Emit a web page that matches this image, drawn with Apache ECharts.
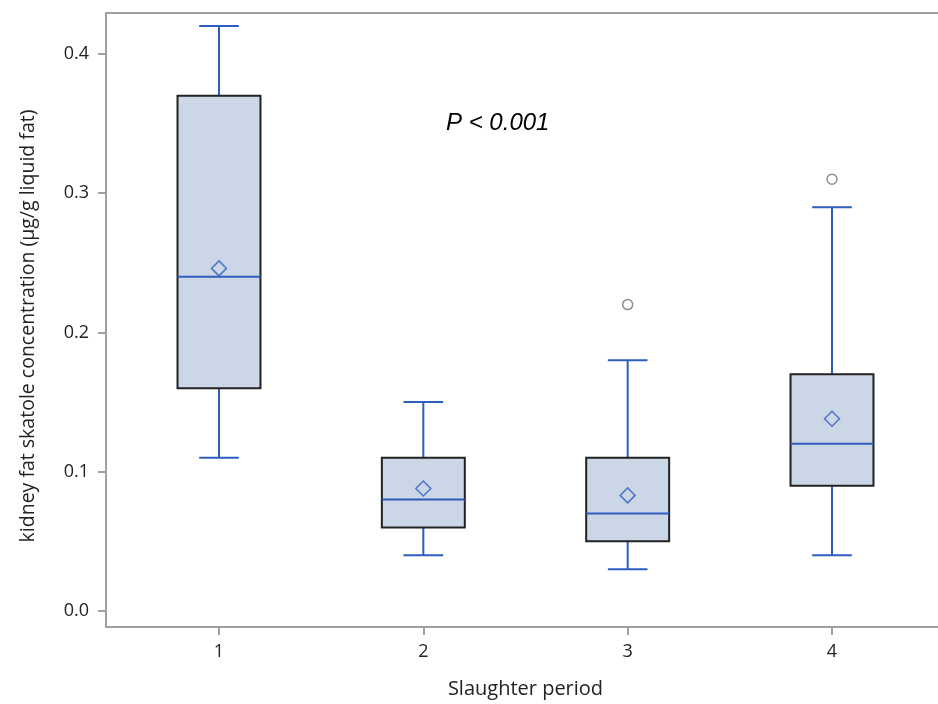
<!DOCTYPE html>
<html>
<head>
<meta charset="utf-8">
<script src="https://cdn.jsdelivr.net/npm/echarts@6/dist/echarts.min.js"></script>
<style>html,body{margin:0;padding:0;background:#fff;overflow:hidden;}#c{width:938px;height:704px;}</style>
</head>
<body>
<div id="c"></div>
<script>
// Data
var periods = [1, 2, 3, 4];
var whiskerLow = [0.11, 0.04, 0.03, 0.04];
var q1 = [0.16, 0.06, 0.05, 0.09];
var median = [0.24, 0.08, 0.07, 0.12];
var q3 = [0.37, 0.11, 0.11, 0.17];
var whiskerHigh = [0.42, 0.15, 0.18, 0.29];
var means = [0.246, 0.088, 0.083, 0.138];
var outlierPeriods = [3, 4];
var outlierValues = [0.22, 0.31];
var yTicks = [0, 0.1, 0.2, 0.3, 0.4];
var xTicks = [1, 2, 3, 4];

var boxData = periods.map(function (p, i) {
  return [p, whiskerLow[i], q1[i], median[i], q3[i], whiskerHigh[i]];
});
var meanData = periods.map(function (p, i) { return [p, means[i]]; });
var outlierData = outlierPeriods.map(function (p, i) { return [p, outlierValues[i]]; });

var BOX_HALF = 0.203;   // in x units
var CAP_HALF = 0.097;
var blue = '#2f5cbf';

function renderBox(params, api) {
  var x = api.value(0);
  var lo = api.coord([x, api.value(1)]);
  var b1 = api.coord([x, api.value(2)]);
  var md = api.coord([x, api.value(3)]);
  var b3 = api.coord([x, api.value(4)]);
  var hi = api.coord([x, api.value(5)]);
  var left = api.coord([x - BOX_HALF, 0])[0];
  var right = api.coord([x + BOX_HALF, 0])[0];
  var capL = api.coord([x - CAP_HALF, 0])[0];
  var capR = api.coord([x + CAP_HALF, 0])[0];
  var cx = lo[0];
  var ls = { stroke: blue, lineWidth: 2 };
  return {
    type: 'group',
    children: [
      { type: 'line', shape: { x1: cx, y1: hi[1], x2: cx, y2: b3[1] }, style: ls },
      { type: 'line', shape: { x1: cx, y1: b1[1], x2: cx, y2: lo[1] }, style: ls },
      { type: 'line', shape: { x1: capL, y1: hi[1], x2: capR, y2: hi[1] }, style: ls },
      { type: 'line', shape: { x1: capL, y1: lo[1], x2: capR, y2: lo[1] }, style: ls },
      { type: 'rect', shape: { x: left, y: b3[1], width: right - left, height: b1[1] - b3[1] },
        style: { fill: '#cbd6e7', stroke: '#222222', lineWidth: 2 } },
      { type: 'line', shape: { x1: left, y1: md[1], x2: right, y2: md[1] }, style: ls }
    ]
  };
}

var chart = echarts.init(document.getElementById('c'), null, { renderer: 'canvas' });
var fontFam = '"Open Sans", "Noto Sans", sans-serif';
var axisLineStyle = { color: '#a0a0a0', width: 2 };
chart.setOption({
  animation: false,
  backgroundColor: '#ffffff',
  grid: { left: 106, top: 13, width: 839, height: 614, outerBoundsMode: 'none', containLabel: false, show: false },
  title: {
    text: 'P < 0.001', left: 441, top: 106,
    textStyle: { fontFamily: '"Liberation Sans", Arial, sans-serif', fontStyle: 'italic', fontWeight: 'normal', fontSize: 24, color: '#000' }
  },
  xAxis: [{
    type: 'value', min: 0.447, max: 4.553,
    name: 'Slaughter period', nameLocation: 'middle', nameGap: 52,
    nameTextStyle: { fontFamily: fontFam, fontSize: 20, color: '#222' },
    splitLine: { show: false },
    axisLine: { show: true, onZero: false, lineStyle: axisLineStyle },
    axisTick: { show: true, length: 8, customValues: xTicks, lineStyle: axisLineStyle },
    axisLabel: { customValues: xTicks, margin: 16, fontFamily: fontFam, fontSize: 18, color: '#222',
      formatter: function (v) { return String(v); } }
  }, {
    type: 'value', position: 'top', min: 0.447, max: 4.553,
    splitLine: { show: false },
    axisLine: { show: true, onZero: false, lineStyle: axisLineStyle },
    axisTick: { show: false }, axisLabel: { show: false }
  }],
  yAxis: {
    type: 'value', min: -0.0115, max: 0.4294,
    name: 'kidney fat skatole concentration (µg/g liquid fat)', nameLocation: 'middle', nameGap: 68,
    nameTextStyle: { fontFamily: fontFam, fontSize: 19.5, color: '#222', padding: [0, 12, 0, 0] },
    splitLine: { show: false },
    axisLine: { show: true, onZero: false, lineStyle: axisLineStyle },
    axisTick: { show: true, length: 8, customValues: yTicks, lineStyle: axisLineStyle },
    axisLabel: { customValues: yTicks, margin: 17, fontFamily: fontFam, fontSize: 18, color: '#222',
      formatter: function (v) { return v.toFixed(1); } }
  },
  series: [
    {
      type: 'custom', renderItem: renderBox, data: boxData,
      encode: { x: 0, y: [1, 2, 3, 4, 5] }, clip: false, z: 2
    },
    {
      type: 'scatter', data: meanData, symbol: 'diamond', symbolSize: [15, 15], z: 3,
      itemStyle: { color: 'transparent', borderColor: blue, borderWidth: 1.5 }
    },
    {
      type: 'scatter', data: outlierData, symbol: 'circle', symbolSize: 10, z: 3,
      itemStyle: { color: 'transparent', borderColor: '#707070', borderWidth: 1.5 }
    }
  ]
});
</script>
</body>
</html>
